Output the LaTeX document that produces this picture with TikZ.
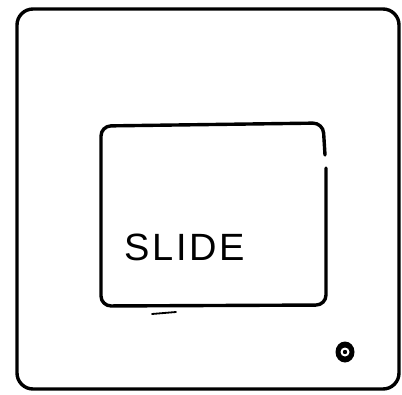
\documentclass[tikz,border=0pt]{standalone}
\usepackage{fontspec}
\setmainfont{Liberation Sans}
\begin{document}
\begin{tikzpicture}[x=1pt,y=-1pt,
  ink/.style={line width=3.4pt,line cap=round,line join=round}]
\useasboundingbox (0,0) rectangle (402,394);
% outer mount
\draw[ink,rounded corners=16pt] (17,9) rectangle (399,389);
% inner slide window with small gap on right side
\draw[ink,rounded corners=10pt] (326,168) -- (326,305) -- (101,306) -- (101,126) -- (323,123) -- (325,155);
% label
\node[font={\fontsize{38}{38}\selectfont\addfontfeature{LetterSpace=7}},inner sep=0pt] (lbl) at (185,247) {SLIDE};
% small mark below window
\draw[line width=1.8pt,line cap=round] (152,314) -- (176,312);
% small ring
\fill (345,352) ellipse (9.5pt and 10.5pt);
\fill[white] (345,352) circle (4.5pt);
\fill (345,352) circle (2.2pt);
\end{tikzpicture}
\end{document}
